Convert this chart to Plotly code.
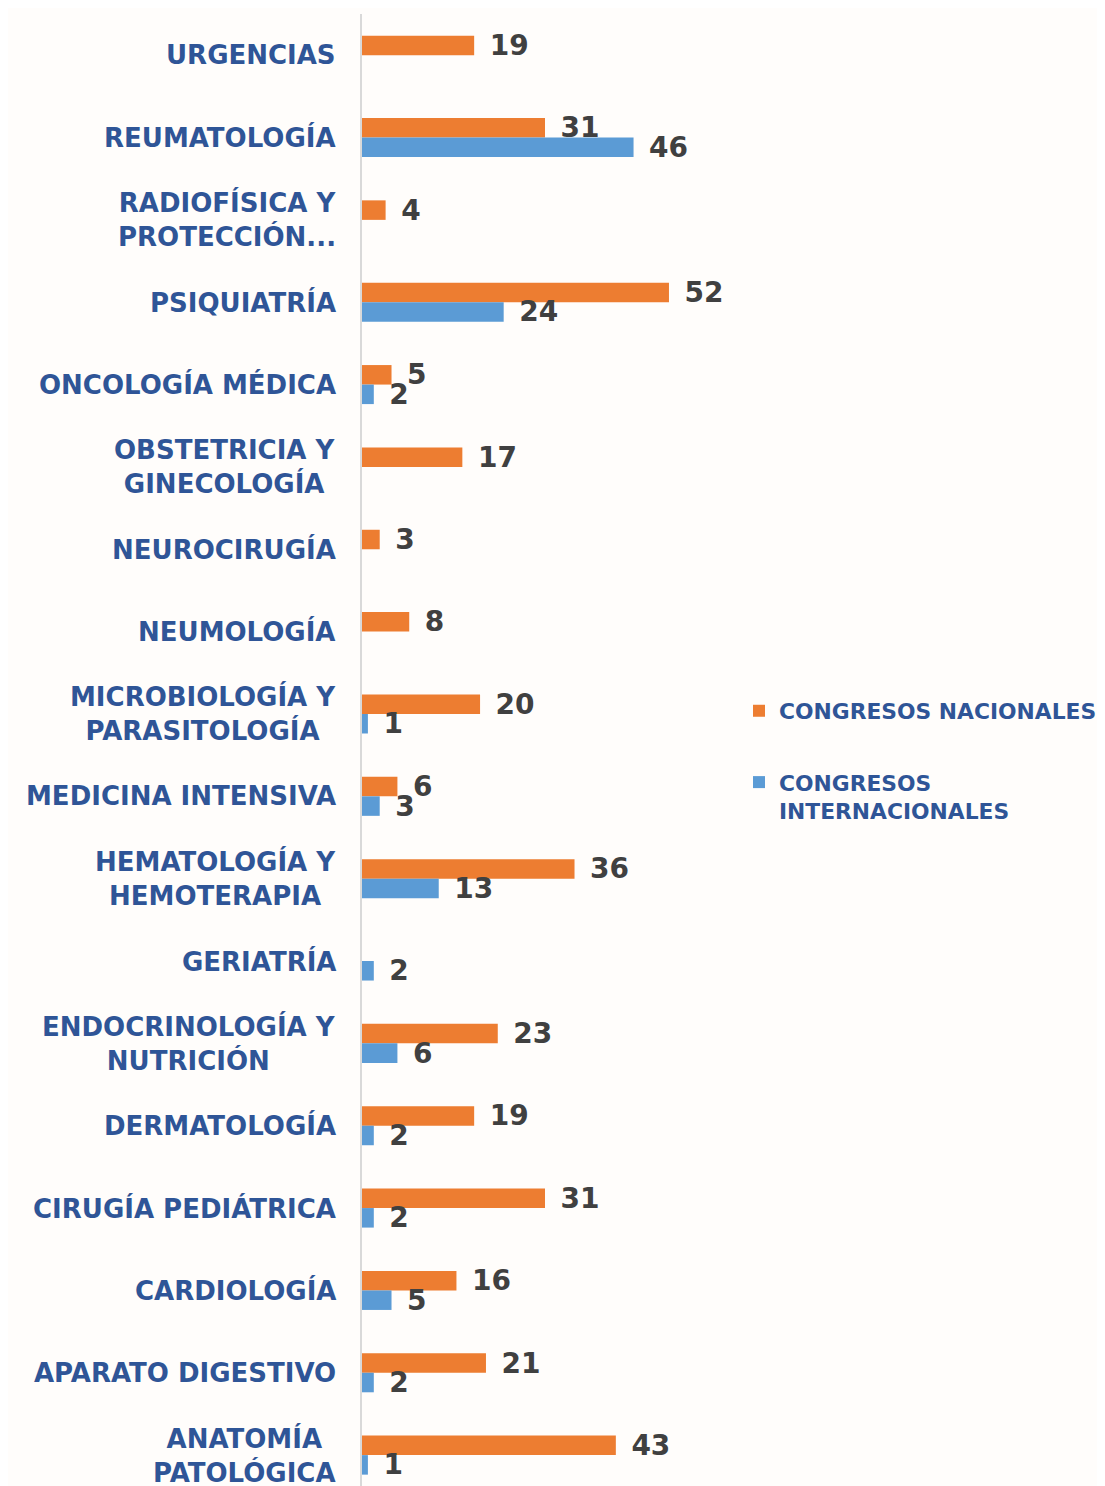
import plotly.graph_objects as go

categories = [
    "URGENCIAS", "REUMATOLOGÍA", "RADIOFÍSICA Y<br>PROTECCIÓN...", "PSIQUIATRÍA",
    "ONCOLOGÍA MÉDICA", "OBSTETRICIA Y<br>GINECOLOGÍA", "NEUROCIRUGÍA", "NEUMOLOGÍA",
    "MICROBIOLOGÍA Y<br>PARASITOLOGÍA", "MEDICINA INTENSIVA", "HEMATOLOGÍA Y<br>HEMOTERAPIA",
    "GERIATRÍA", "ENDOCRINOLOGÍA Y<br>NUTRICIÓN", "DERMATOLOGÍA", "CIRUGÍA PEDIÁTRICA",
    "CARDIOLOGÍA", "APARATO DIGESTIVO", "ANATOMÍA<br>PATOLÓGICA",
]
nacionales = [19, 31, 4, 52, 5, 17, 3, 8, 20, 6, 36, None, 23, 19, 31, 16, 21, 43]
internacionales = [None, 46, None, 24, 2, None, None, None, 1, 3, 13, 2, 6, 2, 2, 5, 2, 1]
series_names = ["CONGRESOS NACIONALES", "CONGRESOS<br>INTERNACIONALES"]
series_colors = ["#ED7D31", "#5B9BD5"]

LABEL_BLUE = "#2F5597"
FONT = "DejaVu Sans"

fig = go.Figure()
for i, (name, vals, col) in enumerate(zip(series_names, [nacionales, internacionales], series_colors)):
    fig.add_trace(go.Bar(
        y=categories, x=vals, name=name, orientation="h",
        marker=dict(color=col, line=dict(width=0)),
        text=[("\u00a0\u200a" + str(v)) if v is not None else "" for v in vals],
        textposition="outside", constraintext="none", cliponaxis=False,
        textfont=dict(family=FONT, size=28, color="#404040", weight="bold"),
        legendgroup=f"g{i}",
    ))

for c in categories:
    fig.add_annotation(
        x=0, xref="paper", y=c, yref="y", text=c, showarrow=False,
        xanchor="right", yanchor="middle", xshift=-24, align="center",
        font=dict(family=FONT, size=26, color=LABEL_BLUE, weight="bold"),
    )

# page body has an 8px margin; figure is sized so that it ends at the window edge
fig.update_layout(
    width=1097, height=1478,
    margin=dict(l=354, r=377, t=6, b=0),
    paper_bgcolor="#FFFDFB", plot_bgcolor="rgba(0,0,0,0)",
    barmode="group", bargap=0.526, bargroupgap=0,
    xaxis=dict(range=[0, 62], showticklabels=False, showgrid=False, zeroline=False, showline=False),
    yaxis=dict(range=[17.375, -0.5], showticklabels=False, showgrid=False, zeroline=False,
               showline=True, linecolor="#D9D9D9", linewidth=2, ticks=""),
    legend=dict(x=1.030, xanchor="left", y=0.5407, yanchor="top", traceorder="grouped",
                tracegroupgap=40, valign="top", bgcolor="rgba(0,0,0,0)",
                font=dict(family=FONT, size=21.8, color=LABEL_BLUE, weight="bold")),
    font=dict(family=FONT),
)

fig.write_html("out.html")
